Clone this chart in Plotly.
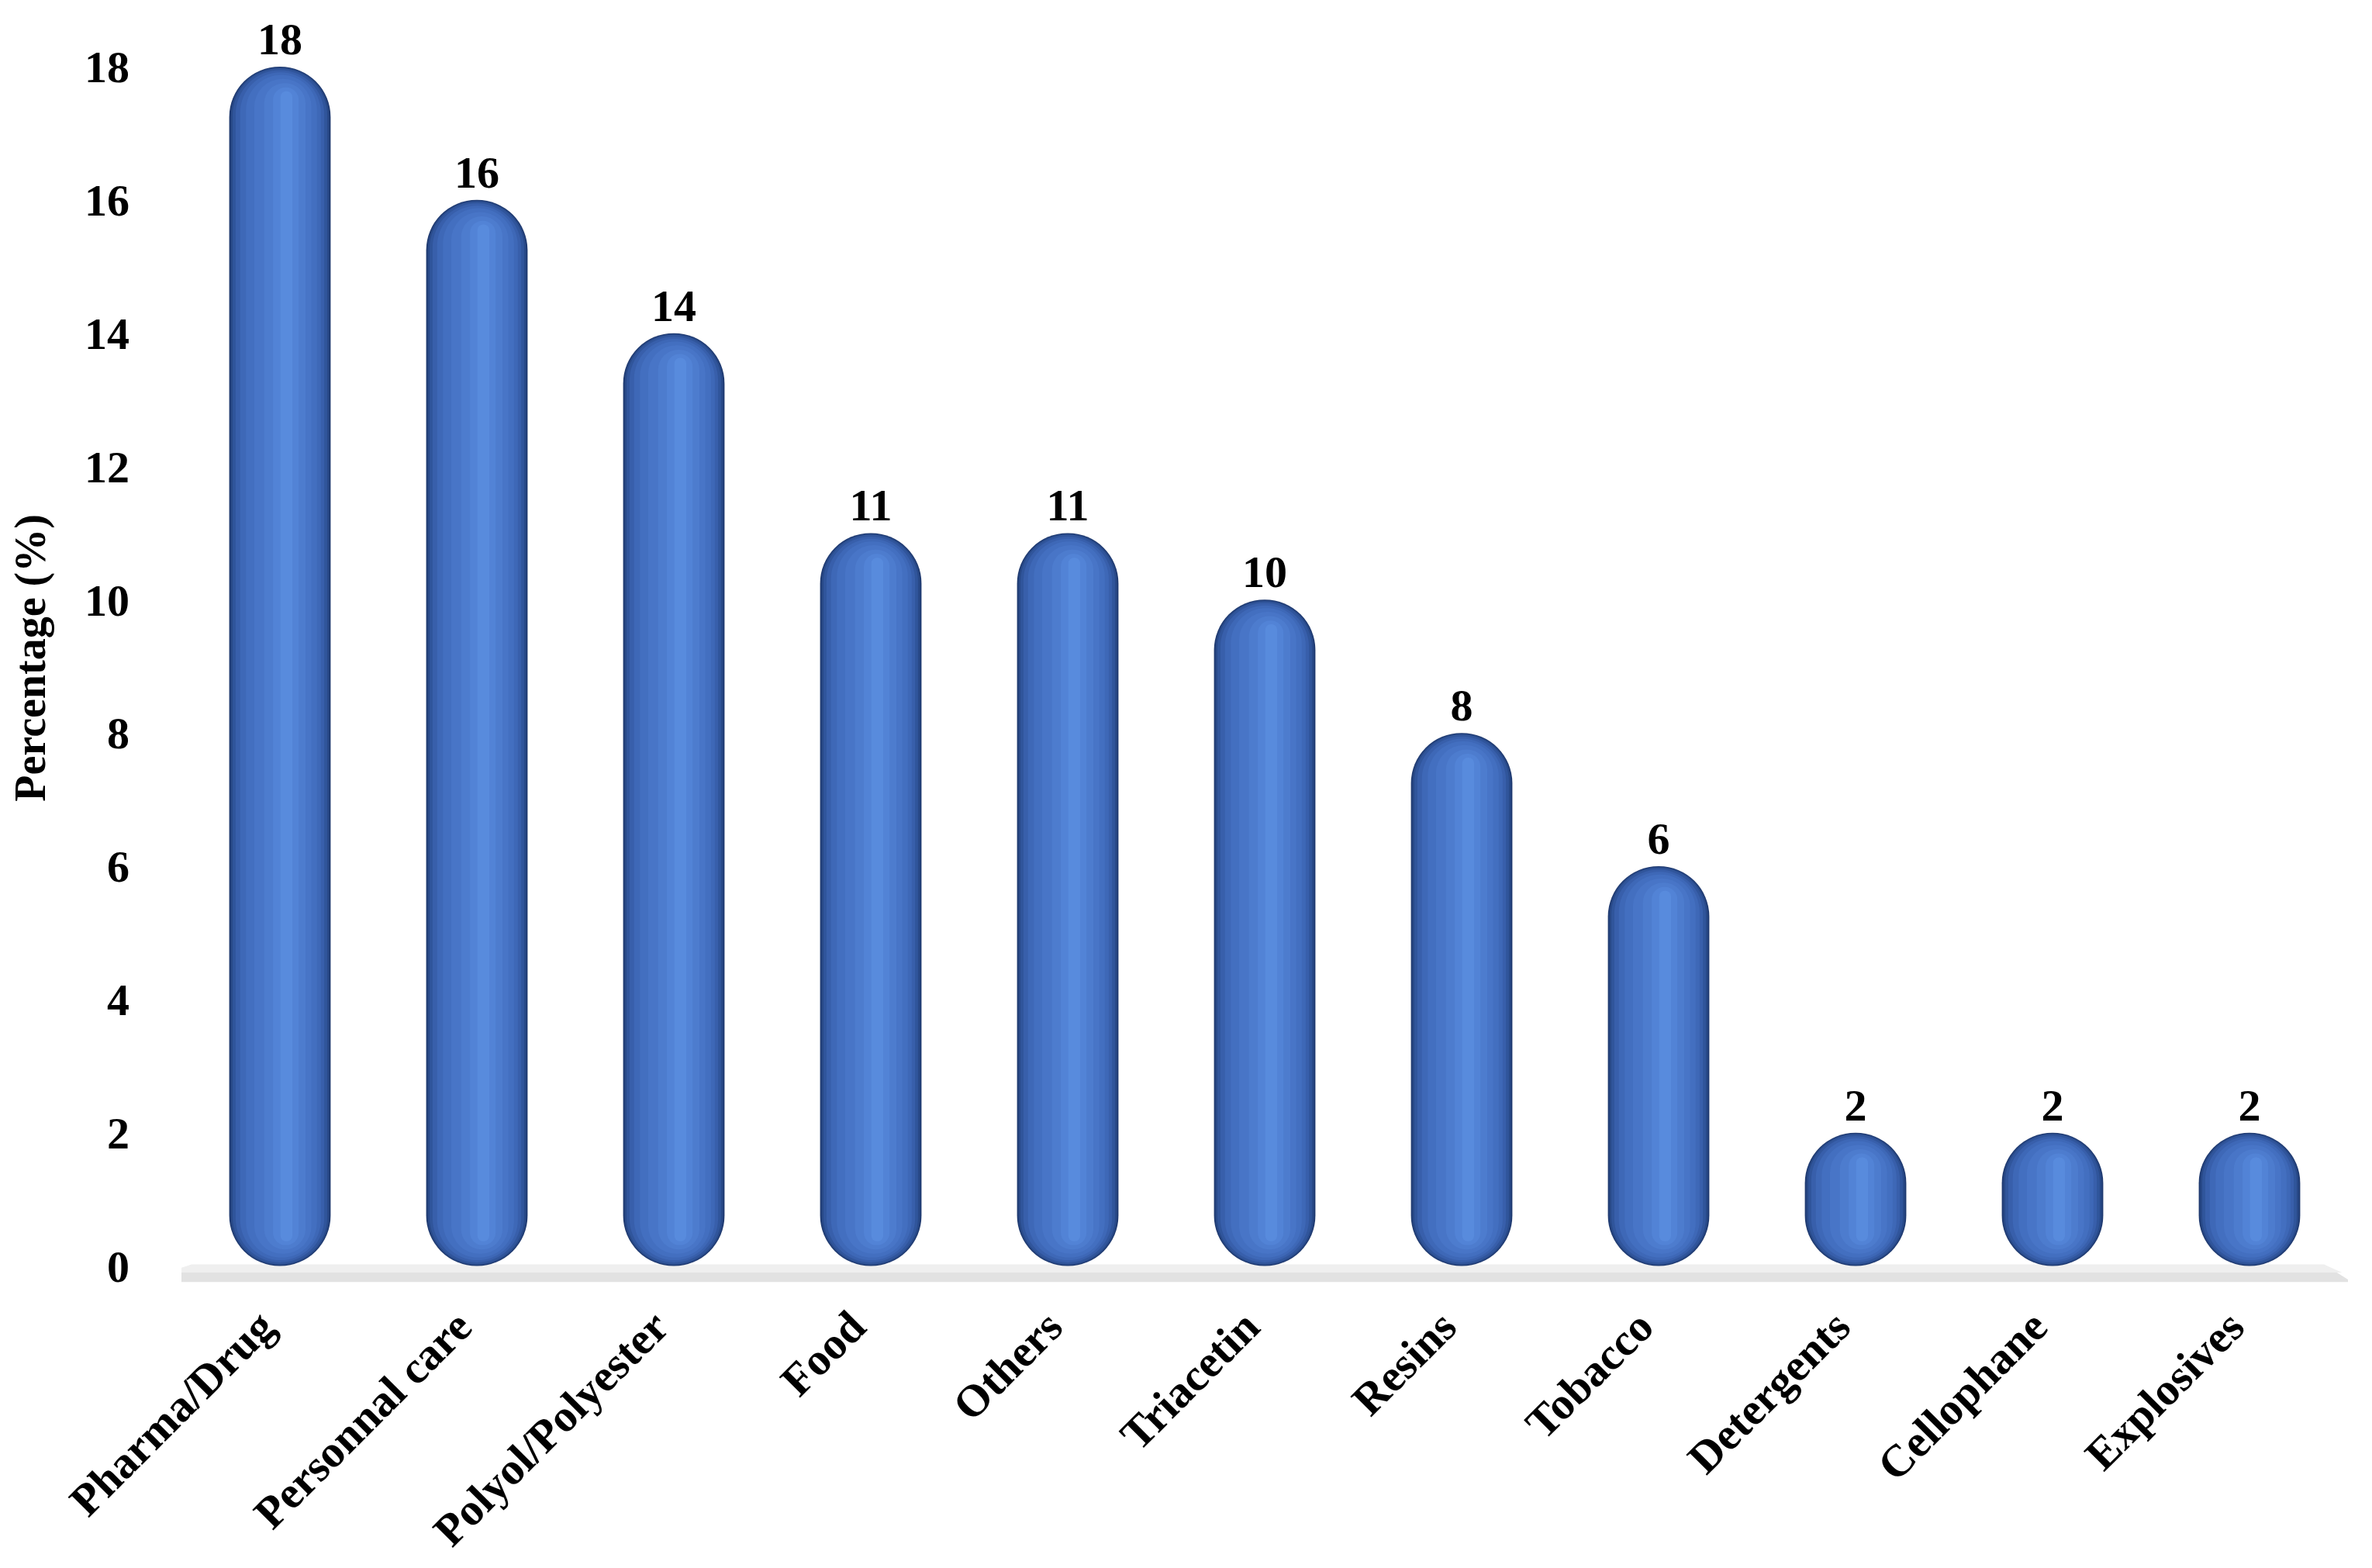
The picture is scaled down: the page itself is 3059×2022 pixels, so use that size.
import plotly.graph_objects as go

# data
categories = ["Pharma/Drug", "Personnal care", "Polyol/Polyester", "Food", "Others",
              "Triacetin", "Resins", "Tobacco", "Detergents", "Cellophane", "Explosives"]
percentages = [18, 16, 14, 11, 11, 10, 8, 6, 2, 2, 2]
y_ticks = [0, 2, 4, 6, 8, 10, 12, 14, 16, 18]

FONT = "Liberation Serif, Times New Roman, serif"
CAT_PX = 254      # pixel width of one category
UNIT_PX = 86.0    # pixels per y unit
EPS = 0.001       # non-zero base so both bar ends get rounded

# shading layers for a cylinder look: (width fraction, colour, centre shift)
layers = [
    (0.515, "#1f3a70", 0.0),
    (0.50, "#284988", 0.0),
    (0.48, "#30559b", 0.0),
    (0.45, "#385fab", 0.0),
    (0.41, "#3e68b7", 0.003),
    (0.36, "#436fc0", 0.008),
    (0.29, "#4875c7", 0.015),
    (0.21, "#4d7cce", 0.025),
    (0.13, "#5283d6", 0.03),
    (0.06, "#588bdd", 0.033),
]

fig = go.Figure()
outer_w = layers[0][0]
for i, (w, col, off) in enumerate(layers):
    inset = (outer_w - w) / 2 * CAT_PX / UNIT_PX * 0.55
    fig.add_trace(go.Bar(
        x=categories, y=[v - 2 * inset - EPS for v in percentages],
        base=[inset + EPS] * len(percentages), width=w, offset=-w / 2 + off,
        marker=dict(color=col, cornerradius="50%", line=dict(width=0)),
        text=percentages if i == 0 else None,
        texttemplate="%{text}" if i == 0 else None,
        textposition="outside" if i == 0 else "none",
        textfont=dict(family=FONT, size=58, color="black", weight="bold"),
        cliponaxis=False, showlegend=False, hoverinfo="skip",
    ))

# floor shelf under the bars
fig.add_shape(type="path", xref="x", yref="y", layer="below",
              path="M -0.62,-0.24 L 10.52,-0.24 L 10.38,0.02 L -0.45,0.02 Z",
              fillcolor="#e2e2e2", line=dict(width=0))
fig.add_shape(type="path", xref="x", yref="y", layer="below",
              path="M -0.58,-0.1 L 10.47,-0.1 L 10.38,0.02 L -0.45,0.02 Z",
              fillcolor="#efefef", line=dict(width=0))

tick_font = dict(family=FONT, size=58, color="black", weight="bold")
fig.update_layout(
    width=3059, height=2022,
    barmode="overlay",
    plot_bgcolor="white", paper_bgcolor="white",
    margin=dict(l=226, r=39, t=35, b=376),
    font=dict(family=FONT, size=58, color="black"),
    xaxis=dict(
        tickangle=-45, showgrid=False, showline=False, ticks="", automargin=False,
        tickfont=dict(family=FONT, size=58, color="black", weight="bold"),
        ticklabelstandoff=10, ticklabelshift=-24, range=[-0.5, 10.5],
    ),
    yaxis=dict(
        range=[-0.25, 18.5], tickvals=y_ticks, showgrid=False, zeroline=False,
        showline=False, ticks="", ticklabelstandoff=66, tickfont=tick_font,
        automargin=False,
        title=dict(text="Percentage (%)", standoff=40,
                   font=dict(family=FONT, size=56, color="black", weight="bold")),
    ),
)

fig.write_html("out.html")
